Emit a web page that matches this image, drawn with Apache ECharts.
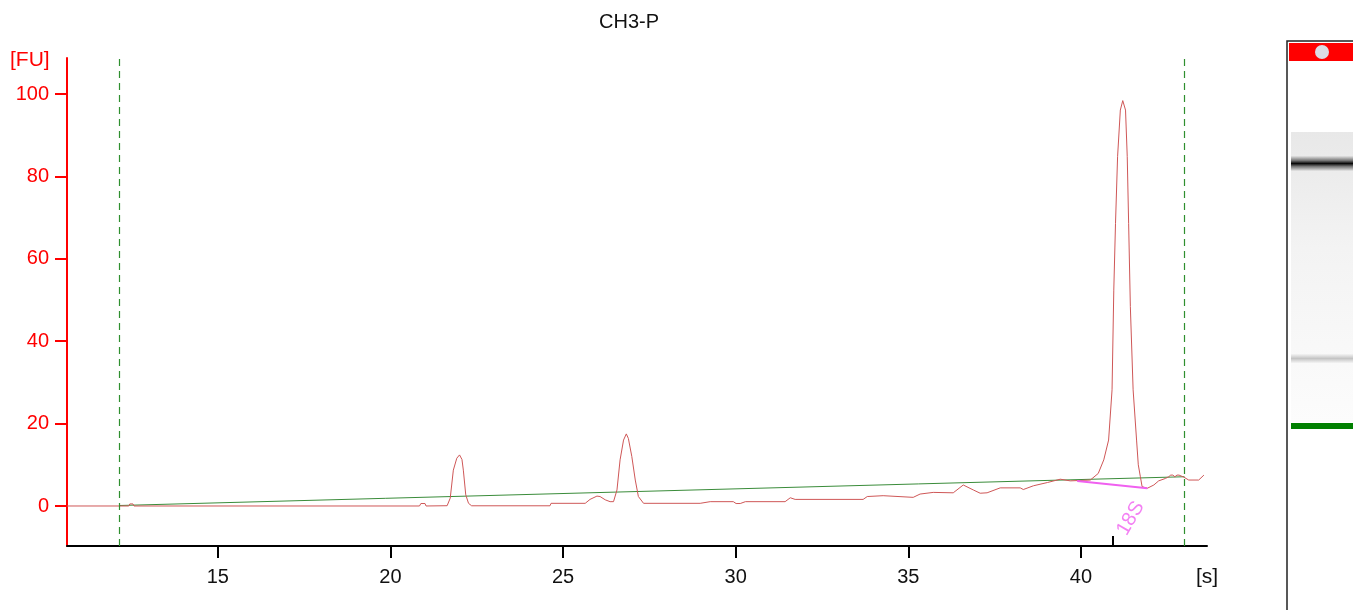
<!DOCTYPE html>
<html>
<head>
<meta charset="utf-8">
<script src="https://cdn.jsdelivr.net/npm/echarts@6/dist/echarts.min.js"></script>
<style>
html,body{margin:0;padding:0;background:#fff;}
#chart{width:1353px;height:610px;}
</style>
</head>
<body>
<div id="chart"></div>
<script>
// ---- data ----
const chartTitle = 'CH3-P';
const xTicks = [15, 20, 25, 30, 35, 40];
const yTicks = [0, 20, 40, 60, 80, 100];
const traceTime = [10.63,12.42,12.45,12.54,12.57,20.84,20.88,21.0,21.03,21.64,21.73,21.82,21.92,22.0,22.07,22.11,22.18,22.26,22.35,24.62,24.65,25.64,25.78,25.98,26.07,26.22,26.36,26.46,26.56,26.65,26.75,26.83,26.89,26.99,27.09,27.18,27.33,28.97,29.26,29.93,30.01,30.13,30.28,31.43,31.58,31.72,33.69,33.81,34.27,35.14,35.34,35.72,36.30,36.59,36.88,37.08,37.28,37.66,38.24,38.33,38.62,39.03,39.40,39.69,40.27,40.50,40.66,40.80,40.90,40.95,41.0,41.06,41.14,41.21,41.29,41.34,41.38,41.43,41.51,41.61,41.66,41.72,41.77,41.92,42.11,42.25,42.45,42.54,42.6,42.66,42.72,42.78,42.84,42.88,42.98,43.12,43.41,43.56];
const traceFU   = [0,0,0.5,0.5,0,0,0.6,0.6,0,0.07,1.9,8.7,11.6,12.4,11.3,8.7,2.7,0.65,0.05,0.05,0.65,0.65,1.6,2.4,2.3,1.5,1.05,1.05,3.9,11.2,16,17.5,16.4,12,6.3,2.3,0.65,0.65,1.05,1.05,0.6,0.6,1.05,1.05,2.0,1.6,1.6,2.3,2.5,2.1,2.9,3.3,3.2,5.1,3.9,3.1,3.2,4.4,4.4,4.0,4.9,5.7,6.5,6.1,6.3,7.9,11.2,16,28.2,52.4,68.6,84.8,96.1,98.4,96.1,84.8,68.6,48.4,28.2,16.0,10,7.1,4.7,4.3,5.1,6.1,6.7,7.1,7.5,7.5,7.1,7.5,7.5,7.1,7.0,6.3,6.3,7.5];
const baselineTime = [12.15, 43.0];
const baselineFU = [0.12, 7.1];
const windowTimes = [12.15, 43.0];
const peak18SLabel = '18S';
const peak18STime = 40.91;
const peak18SBaseTime = [39.89, 41.92];
const peak18SBaseFU = [6.07, 4.3];

// ---- chart ----
const X_MIN = 10.63, X_MAX = 43.65, Y_MIN = -9.71, Y_MAX = 108.74;
const FONT = 'Liberation Sans, Arial, sans-serif';
const chart = echarts.init(document.getElementById('chart'), null, {renderer: 'canvas'});

const trace = traceTime.map((t, i) => [t, traceFU[i]]);
const baseline = baselineTime.map((t, i) => [t, baselineFU[i]]);
const base18S = peak18SBaseTime.map((t, i) => [t, peak18SBaseFU[i]]);

const option = {
  animation: false,
  backgroundColor: '#ffffff',
  title: {
    text: chartTitle, left: 594, top: 7,
    textStyle: {fontFamily: FONT, fontSize: 20, fontWeight: 'normal', color: '#111'}
  },
  grid: {left: 67, right: 146, top: 58, bottom: 64, containLabel: false},
  xAxis: {
    type: 'value', min: X_MIN, max: X_MAX,
    splitLine: {show: false},
    axisLine: {show: true, onZero: false, lineStyle: {color: '#000', width: 2}},
    axisTick: {show: true, length: 12, lineStyle: {color: '#000', width: 2}, customValues: xTicks},
    axisLabel: {fontFamily: FONT, fontSize: 20, color: '#111', margin: 21, customValues: xTicks}
  },
  yAxis: {
    type: 'value', min: Y_MIN, max: Y_MAX,
    splitLine: {show: false},
    axisLine: {show: true, onZero: false, lineStyle: {color: '#ff0000', width: 2}},
    axisTick: {show: true, length: 12, lineStyle: {color: '#ff0000', width: 2}, customValues: yTicks},
    axisLabel: {fontFamily: FONT, fontSize: 20, color: '#ff0000', margin: 18, customValues: yTicks}
  },
  graphic: [
    {type: 'text', left: 10, top: 50, style: {text: '[FU]', fontFamily: FONT, fontSize: 21, fill: '#ff0000'}},
    {type: 'text', x: 1207, y: 577, style: {text: '[s]', fontFamily: FONT, fontSize: 21, fill: '#111', align: 'center', verticalAlign: 'middle'}},
    // gel lane
    {type: 'rect', shape: {x: 1287, y: 41, width: 80, height: 600}, style: {fill: '#fff', stroke: '#222', lineWidth: 1.5}},
    {type: 'rect', shape: {x: 1289, y: 43, width: 70, height: 18}, style: {fill: '#ff0000'}},
    {type: 'circle', shape: {cx: 1322, cy: 52, r: 7}, style: {fill: '#dcdce4'}},
    {type: 'rect', shape: {x: 1291, y: 132, width: 70, height: 290}, style: {fill: {type: 'linear', x: 0, y: 0, x2: 0, y2: 1, colorStops: [
      {offset: 0, color: '#e8e8e8'}, {offset: 0.4, color: '#f3f3f3'}, {offset: 1, color: '#fcfcfc'}]}}},
    {type: 'rect', shape: {x: 1291, y: 156, width: 70, height: 15}, style: {fill: {type: 'linear', x: 0, y: 0, x2: 0, y2: 1, colorStops: [
      {offset: 0, color: '#e4e4e4'}, {offset: 0.3, color: '#777'}, {offset: 0.5, color: '#0a0a0a'}, {offset: 0.7, color: '#777'}, {offset: 1, color: '#e8e8e8'}]}}},
    {type: 'rect', shape: {x: 1291, y: 354, width: 70, height: 9}, style: {fill: {type: 'linear', x: 0, y: 0, x2: 0, y2: 1, colorStops: [
      {offset: 0, color: '#f4f4f4'}, {offset: 0.5, color: '#c4c4c4'}, {offset: 1, color: '#f4f4f4'}]}}},
    {type: 'rect', shape: {x: 1291, y: 423, width: 70, height: 6}, style: {fill: '#008000'}}
  ],
  series: [
    {
      type: 'line', data: baseline, symbol: 'none', silent: true,
      lineStyle: {color: '#3a8c3a', width: 1},
      markLine: {
        silent: true, symbol: ['none', 'none'], label: {show: false},
        emphasis: {disabled: true},
        lineStyle: {type: [7, 5], color: '#2f8f2f', width: 1.2, opacity: 1},
        data: windowTimes.map(t => ({xAxis: t}))
      },
      z: 2
    },
    {
      type: 'line', data: trace, symbol: 'none', silent: true, sampling: null,
      lineStyle: {color: '#cf5757', width: 1}, z: 3
    },
    {
      type: 'line', data: base18S, symbol: 'none', silent: true,
      lineStyle: {color: '#f060f0', width: 2}, z: 4,
      markLine: {
        silent: true, symbol: ['none', 'none'], label: {show: false},
        lineStyle: {type: 'solid', color: '#000', width: 2},
        data: [[{coord: [peak18STime, Y_MIN]}, {coord: [peak18STime, -7.3]}]]
      }
    },
    {
      type: 'scatter', data: [[peak18STime, Y_MIN]], symbolSize: 0, silent: true, z: 5,
      label: {
        show: true, formatter: peak18SLabel, position: 'inside', rotate: 60,
        offset: [33, 2], fontFamily: FONT, fontSize: 20, color: '#f060f0',
        align: 'center', verticalAlign: 'middle'
      }
    }
  ]
};
chart.setOption(option);
</script>
</body>
</html>
